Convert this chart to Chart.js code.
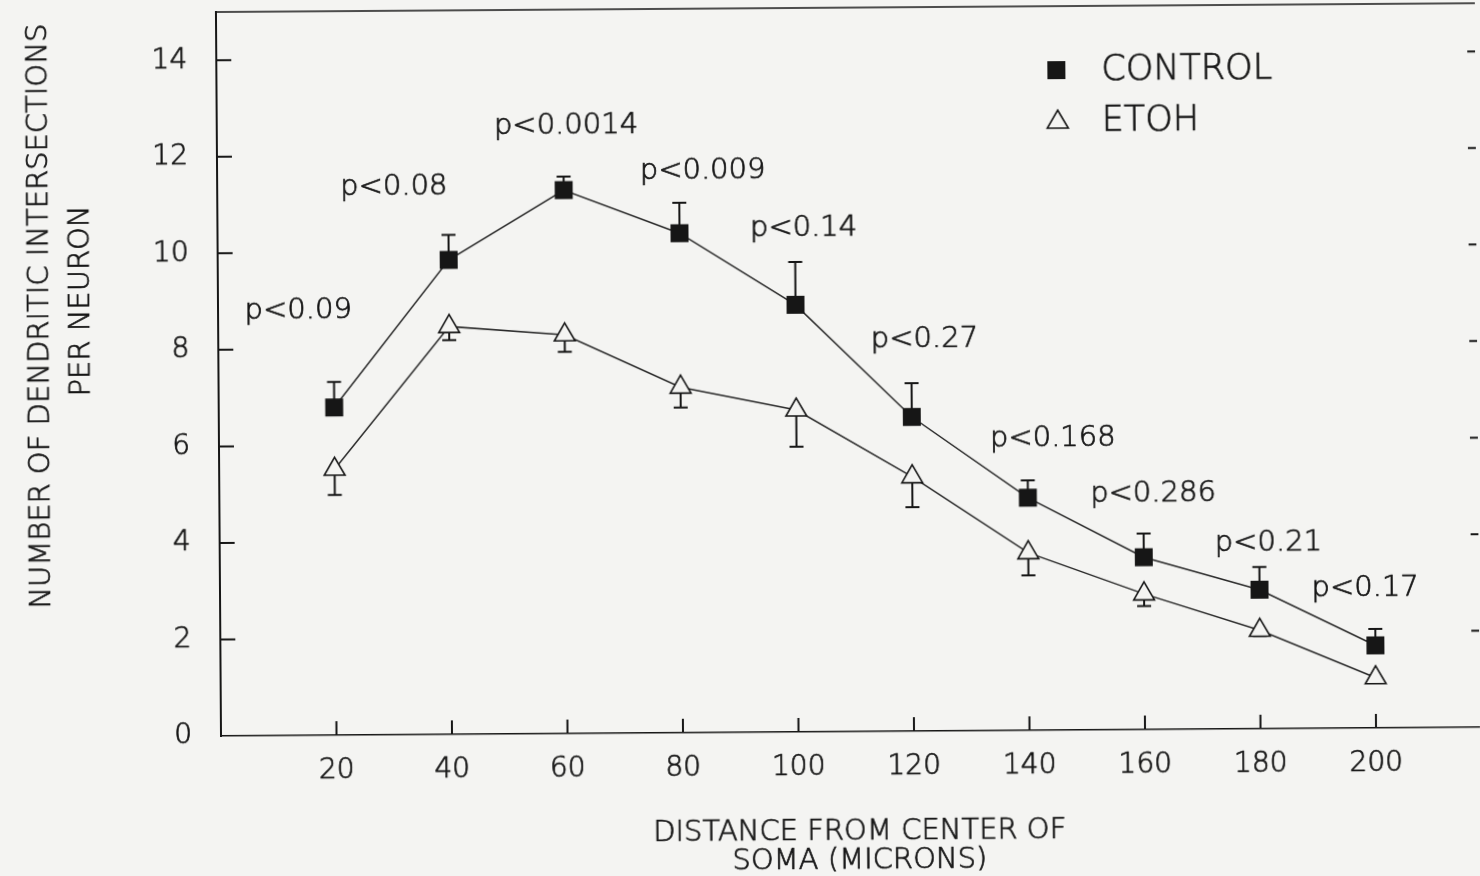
<!DOCTYPE html>
<html>
<head>
<meta charset="utf-8">
<title>Dendritic intersections per neuron</title>
<script src="https://cdn.jsdelivr.net/npm/chart.js@4.4.1/dist/chart.umd.min.js"></script>
<style>
  html, body { margin: 0; padding: 0; background: #f4f4f2; overflow: hidden; }
  /* the scanned figure sits slightly askew */
  #wrap { width: 1480px; height: 876px; transform-origin: 221px 736px; transform: rotate(-0.4deg); }
</style>
</head>
<body>
<div id="wrap"><canvas id="myChart" width="1480" height="876"></canvas></div>
<script>
// distance from soma (microns)
const distances = [20, 40, 60, 80, 100, 120, 140, 160, 180, 200];
const control = [6.79, 9.83, 11.26, 10.35, 8.85, 6.51, 4.82, 3.57, 2.88, 1.71];
const controlErr = [0.53, 0.52, 0.28, 0.63, 0.89, 0.70, 0.36, 0.49, 0.47, 0.34];
const etoh = [5.51, 8.45, 8.26, 7.16, 6.67, 5.27, 3.68, 2.81, 2.04, 1.04];
const etohErr = [0.53, 0.28, 0.35, 0.42, 0.76, 0.63, 0.47, 0.25, 0.12, 0.10];

// significance labels and where each one starts (axis units)
const pValues = ['p<0.09', 'p<0.08', 'p<0.0014', 'p<0.009', 'p<0.14', 'p<0.27', 'p<0.168', 'p<0.286', 'p<0.21', 'p<0.17'];
const pLabelX = [4.6, 21.3, 48.0, 73.2, 92.2, 113.0, 133.5, 150.8, 172.3, 189.0];
const pLabelY = [8.86, 11.40, 12.66, 11.69, 10.50, 8.17, 6.10, 4.95, 3.90, 2.95];

const xTicks = [20, 40, 60, 80, 100, 120, 140, 160, 180, 200];
const yTicks = [0, 2, 4, 6, 8, 10, 12, 14];

const FONT = "'DejaVu Sans', sans-serif";
const WEIGHT = '200';
const INK = '#161616';
const BG = '#f4f4f2';
const STROKE = 0.7; // thickens the light face a little

function errorBars(chart, values, errs, dir) {
  const { ctx, scales: { x, y } } = chart;
  ctx.save();
  ctx.strokeStyle = INK;
  ctx.lineWidth = 2;
  distances.forEach((d, i) => {
    if (!errs[i]) return;
    const px = x.getPixelForValue(d);
    const y0 = y.getPixelForValue(values[i]);
    const y1 = y.getPixelForValue(values[i] + dir * errs[i]);
    ctx.beginPath();
    ctx.moveTo(px, y0);
    ctx.lineTo(px, y1);
    ctx.moveTo(px - 7, y1);
    ctx.lineTo(px + 7, y1);
    ctx.stroke();
  });
  ctx.restore();
}

function textAt(ctx, str, x, yMid, size, align) {
  ctx.font = WEIGHT + ' ' + size + 'px ' + FONT;
  ctx.textAlign = align || 'left';
  ctx.textBaseline = 'alphabetic';
  ctx.lineWidth = STROKE;
  ctx.fillText(str, x, yMid + 0.3645 * size);
  ctx.strokeText(str, x, yMid + 0.3645 * size);
}

// no room reserved for labels hanging past the plot edges
function noOverhang(s) {
  s.paddingLeft = 0;
  s.paddingRight = 0;
  s.paddingTop = 0;
  s.paddingBottom = 0;
}

const decor = {
  id: 'decor',
  beforeDatasetsDraw(chart) {
    errorBars(chart, control, controlErr, 1);
    errorBars(chart, etoh, etohErr, -1);
  },
  afterDraw(chart) {
    const { ctx, chartArea: a, scales: { x, y } } = chart;
    ctx.save();
    ctx.strokeStyle = INK;

    // frame top
    ctx.lineWidth = 1.3;
    ctx.beginPath();
    ctx.moveTo(a.left, a.top);
    ctx.lineTo(a.right, a.top);
    ctx.stroke();

    // inward tick marks
    ctx.lineWidth = 2;
    ctx.beginPath();
    yTicks.forEach(v => {
      if (v === 0) return;
      const py = y.getPixelForValue(v);
      ctx.moveTo(a.left, py);
      ctx.lineTo(a.left + 15, py);
      ctx.moveTo(a.right - 8, py);
      ctx.lineTo(a.right, py);
    });
    xTicks.forEach(v => {
      const px = x.getPixelForValue(v);
      ctx.moveTo(px, a.bottom);
      ctx.lineTo(px, a.bottom - 14);
    });
    ctx.stroke();

    ctx.fillStyle = INK;
    // p values
    pValues.forEach((t, i) => {
      textAt(ctx, t, x.getPixelForValue(pLabelX[i]), y.getPixelForValue(pLabelY[i]), 29);
    });

    // legend
    ctx.fillRect(1052, 67, 18, 18);
    ctx.lineWidth = 1.6;
    ctx.beginPath();
    ctx.moveTo(1062, 116);
    ctx.lineTo(1072.5, 134);
    ctx.lineTo(1051.5, 134);
    ctx.closePath();
    ctx.stroke();
    textAt(ctx, 'CONTROL', 1106, 73, 35);
    textAt(ctx, 'ETOH', 1106, 124, 35);

    // axis titles
    textAt(ctx, 'DISTANCE FROM CENTER OF', 859, 833, 29, 'center');
    textAt(ctx, 'SOMA (MICRONS)', 859, 862, 29, 'center');
    ctx.save();
    ctx.translate(40, 315);
    ctx.rotate(-Math.PI / 2);
    textAt(ctx, 'NUMBER OF DENDRITIC INTERSECTIONS', 0, 0, 29, 'center');
    ctx.restore();
    ctx.save();
    ctx.translate(81, 300);
    ctx.rotate(-Math.PI / 2);
    textAt(ctx, 'PER NEURON', 0, 0, 29, 'center');
    ctx.restore();

    ctx.restore();
  }
};

const ctx = document.getElementById('myChart');

new Chart(ctx, {
  type: 'line',
  data: {
    datasets: [{
      label: 'CONTROL',
      data: distances.map((d, i) => ({ x: d, y: control[i] })),
      borderColor: '#2a2a2a',
      borderWidth: 1.5,
      pointStyle: 'rect',
      pointRadius: 12.7,
      pointBackgroundColor: INK,
      pointBorderColor: INK,
      pointBorderWidth: 0
    }, {
      label: 'ETOH',
      data: distances.map((d, i) => ({ x: d, y: etoh[i] })),
      borderColor: '#2a2a2a',
      borderWidth: 1.5,
      pointStyle: 'triangle',
      pointRadius: 12,
      pointBackgroundColor: BG,
      pointBorderColor: INK,
      pointBorderWidth: 1.6
    }]
  },
  options: {
    responsive: false,
    animation: false,
    layout: { autoPadding: false, padding: { top: 12, left: 0, right: 0, bottom: 0 } },
    plugins: {
      legend: { display: false },
      tooltip: { enabled: false }
    },
    scales: {
      x: {
        type: 'linear',
        min: 0,
        max: 218,
        afterBuildTicks: s => { s.ticks = xTicks.map(v => ({ value: v })); },
        afterFit: s => { s.height = 140; noOverhang(s); },
        grid: { display: false },
        border: { display: true, color: INK, width: 1.6 },
        ticks: {
          color: INK,
          textStrokeColor: INK,
          textStrokeWidth: STROKE,
          padding: 11,
          maxRotation: 0,
          autoSkip: false,
          font: { family: FONT, size: 28, weight: WEIGHT }
        }
      },
      y: {
        min: 0,
        max: 15,
        afterBuildTicks: s => { s.ticks = yTicks.map(v => ({ value: v })); },
        afterFit: s => { s.width = 221; noOverhang(s); },
        grid: { display: false },
        border: { display: true, color: INK, width: 2 },
        ticks: {
          color: INK,
          textStrokeColor: INK,
          textStrokeWidth: STROKE,
          padding: 21,
          font: { family: FONT, size: 28, weight: WEIGHT }
        }
      }
    }
  },
  plugins: [decor]
});
</script>
</body>
</html>
